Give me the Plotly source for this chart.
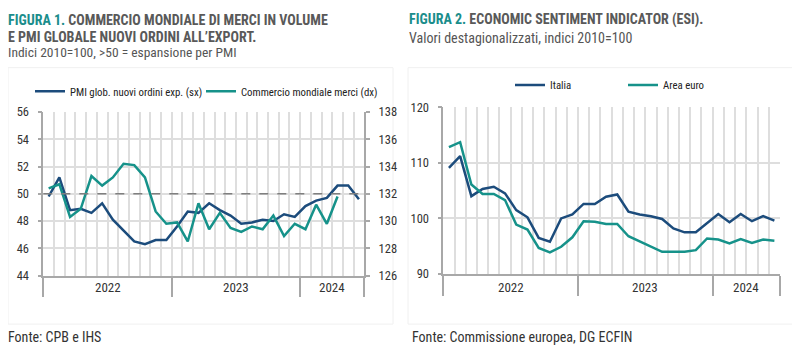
import plotly.graph_objects as go

# ---------------- data ----------------
months_n = 30  # Jan 2022 .. Jun 2024
years = ["2022", "2023", "2024"]

pmi_export_orders = [49.8, 51.2, 48.8, 48.9, 48.6, 49.3, 48.1, 47.3, 46.5, 46.3,
                     46.6, 46.6, 47.6, 48.7, 48.6, 49.3, 48.8, 48.4, 47.8, 47.9,
                     48.1, 48.0, 48.5, 48.3, 49.1, 49.5, 49.7, 50.6, 50.6, 49.6]
world_trade = [132.4, 132.7, 130.3, 130.9, 133.3, 132.6, 133.2, 134.2, 134.1, 133.2,
               130.7, 129.8, 129.9, 128.5, 131.3, 129.4, 130.6, 129.5, 129.2, 129.6,
               129.4, 130.4, 128.9, 129.8, 129.4, 131.2, 129.8, 131.8]

esi_italia = [109.1, 111.2, 104.0, 105.3, 105.7, 104.5, 101.5, 100.2, 96.5, 95.8,
              100.0, 100.7, 102.6, 102.6, 103.9, 104.3, 101.2, 100.7, 100.4, 99.9,
              98.2, 97.5, 97.5, 99.1, 100.8, 99.3, 100.8, 99.5, 100.4, 99.6]
esi_area_euro = [112.8, 113.7, 106.1, 104.4, 104.4, 103.3, 98.9, 98.0, 94.7, 93.9,
                 94.9, 96.6, 99.5, 99.4, 99.0, 99.0, 96.8, 95.9, 95.0, 94.0,
                 94.0, 94.0, 94.3, 96.4, 96.2, 95.5, 96.3, 95.6, 96.2, 96.0]

x_pos = [i + 0.5 for i in range(months_n)]
year_centers = [6, 18, 27]
year_bounds = [0, 12, 24, 30]

# ---------------- style ----------------
NAVY = "#1c4c7c"
TEAL = "#16928a"
TITLE_TEAL = "#1a8d8b"
TXT = "#333333"
GRID = "#dedede"
AXIS = "#a8a8a8"
FONT = "Roboto Condensed, Liberation Sans Narrow, Arial Narrow, sans-serif"

# page has an 8px body margin: map reference pixel coords into the figure
OFF = 8
W, H = 800 - OFF, 355 - OFF
def px(x):
    return (x - OFF) / W
def py(y):
    return 1 - (y - OFF) / H

fig = go.Figure()

fig.add_trace(go.Scatter(x=x_pos, y=pmi_export_orders, mode="lines",
                         name="PMI glob. nuovi ordini exp. (sx)",
                         line=dict(color=NAVY, width=2.5), xaxis="x", yaxis="y",
                         legend="legend"))
fig.add_trace(go.Scatter(x=x_pos[:len(world_trade)], y=world_trade, mode="lines",
                         name="Commercio mondiale merci (dx)",
                         line=dict(color=TEAL, width=2.5), xaxis="x", yaxis="y2",
                         legend="legend2"))
fig.add_trace(go.Scatter(x=x_pos, y=esi_italia, mode="lines", name="Italia",
                         line=dict(color=NAVY, width=2.5), xaxis="x2", yaxis="y3",
                         legend="legend3"))
fig.add_trace(go.Scatter(x=x_pos, y=esi_area_euro, mode="lines", name="Area euro",
                         line=dict(color=TEAL, width=2.5), xaxis="x2", yaxis="y3",
                         legend="legend4"))

tickfont = dict(family=FONT, size=12.5, color=TXT)

def xaxis_cfg(domain, anchor):
    return dict(domain=domain, anchor=anchor, range=[0, months_n],
                tickmode="array", tickvals=year_bounds, ticktext=["", "", "", ""],
                ticks="outside", ticklen=20, tickwidth=1.5, tickcolor=AXIS,
                showline=True, linecolor=AXIS, linewidth=1.5,
                showgrid=True, gridcolor=GRID, gridwidth=1.5,
                minor=dict(tickmode="linear", tick0=0, dtick=1, showgrid=True,
                           gridcolor=GRID, gridwidth=1.5, ticks=""),
                zeroline=False, fixedrange=True)

fig.update_layout(
    width=W, height=H,
    margin=dict(l=0, r=0, t=0, b=0),
    paper_bgcolor="white", plot_bgcolor="white",
    font=dict(family=FONT, color=TXT),
    xaxis=xaxis_cfg([px(43.3), px(364.3)], "y"),
    yaxis=dict(domain=[py(279.3), py(108.3)], anchor="x", range=[44, 56], dtick=2,
               tick0=44, showline=True, linecolor=AXIS, linewidth=1.5,
               ticks="outside", ticklen=4, tickcolor=AXIS, tickwidth=1.5,
               showgrid=True, gridcolor=GRID, gridwidth=1.5, zeroline=False,
               tickfont=tickfont, ticklabelstandoff=6),
    yaxis2=dict(overlaying="y", side="right", anchor="x", range=[126, 138], dtick=2,
                tick0=126, showline=True, linecolor=AXIS, linewidth=1.5,
                ticks="outside", ticklen=4, tickcolor=AXIS, tickwidth=1.5,
                showgrid=False, zeroline=False, tickfont=tickfont,
                ticklabelstandoff=6),
    xaxis2=xaxis_cfg([px(443.3), px(780)], "y3"),
    yaxis3=dict(domain=[py(277.7), py(103.3)], anchor="x2", range=[90, 120], dtick=10,
                tick0=90, showline=True, linecolor=AXIS, linewidth=1.5,
                ticks="outside", ticklen=4, tickcolor=AXIS, tickwidth=1.5,
                showgrid=True, gridcolor=GRID, gridwidth=1.5, zeroline=False,
                tickfont=tickfont, ticklabelstandoff=6),
    showlegend=True,
)

leg_font = dict(family=FONT, size=10.8, color="#222222")
def leg(xp, yp):
    return dict(x=px(xp), y=py(yp), xanchor="left", yanchor="middle",
                orientation="h", font=leg_font, bgcolor="rgba(0,0,0,0)",
                borderwidth=0, itemwidth=30, tracegroupgap=0)

fig.update_layout(legend=leg(30, 86.7), legend2=leg(201, 86.7),
                  legend3=leg(510, 80), legend4=leg(623, 80))

# dashed 50 line
fig.add_shape(type="line", xref="x domain", x0=0, x1=1, yref="y", y0=50, y1=50,
              line=dict(color="#7f7f7f", width=1.5, dash="dash"))

# light frames around the chart panels
for x0, x1 in [(8, 393), (408, 795)]:
    fig.add_shape(type="rect", xref="paper", yref="paper", x0=px(x0), x1=px(x1),
                  y0=py(330), y1=py(62), line=dict(color="#f0f0f0", width=1),
                  layer="below")

# year labels
for xa in ["x", "x2"]:
    for yr, xc in zip(years, year_centers):
        fig.add_annotation(text=yr, x=xc, xref=xa, y=py(291.5), yref="paper",
                           showarrow=False, font=dict(family=FONT, size=13, color=TXT),
                           xanchor="center", yanchor="middle")

def text(t, x, y, size, color=TXT):
    fig.add_annotation(text=t, x=px(x), y=py(y), xref="paper", yref="paper",
                       showarrow=False, xanchor="left", yanchor="middle",
                       borderpad=0, font=dict(family=FONT, size=size, color=color))

TITLE_GREY = "#595959"
text("<b><span style='color:%s'>FIGURA 1.</span> COMMERCIO MONDIALE DI MERCI IN VOLUME</b>" % TITLE_TEAL,
     7, 12, 14, TITLE_GREY)
text("<b>E PMI GLOBALE NUOVI ORDINI ALL’EXPORT.</b>", 7, 29.5, 14, TITLE_GREY)
text("Indici 2010=100, >50 = espansione per PMI", 7, 46, 13.5, "#555555")
text("<b><span style='color:%s'>FIGURA 2.</span> ECONOMIC SENTIMENT INDICATOR (ESI).</b>" % TITLE_TEAL,
     408, 12, 14, TITLE_GREY)
text("Valori destagionalizzati, indici 2010=100", 408, 30.5, 14, "#555555")
text("Fonte: CPB e IHS", 7, 343, 14, "#333333")
text("Fonte: Commissione europea, DG ECFIN", 411, 343, 14, "#333333")

fig.write_html("out.html")
